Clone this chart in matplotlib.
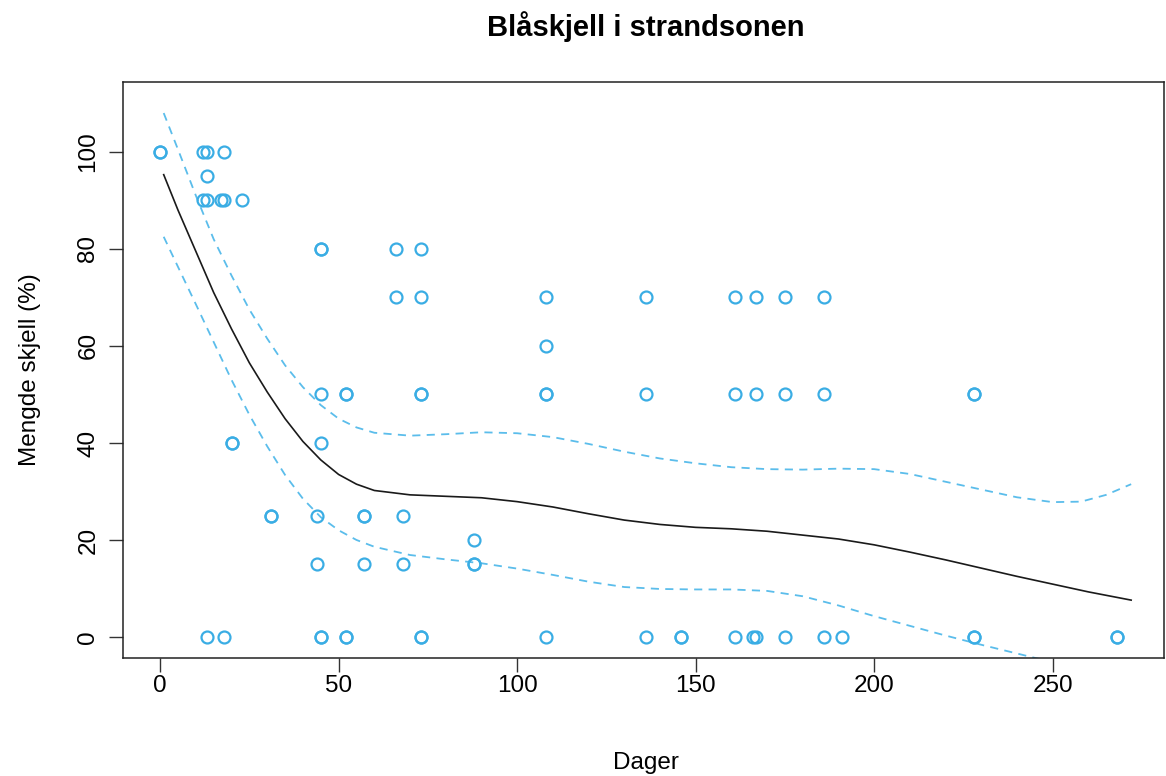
import matplotlib
matplotlib.use("Agg")
import matplotlib.pyplot as plt

plt.rcParams['font.family'] = ['Liberation Sans', 'DejaVu Sans']

# observed points (days, % mussels)
dager = [0, 0, 12, 13, 18,
         13,
         12, 13, 17, 18, 23,
         45, 45, 66, 73,
         66, 73, 108, 136, 161, 167, 175, 186,
         108,
         45, 52, 52, 73, 73, 108, 108, 136, 161, 167, 175, 186, 228, 228,
         20, 20, 45,
         31, 31, 44, 57, 57, 68,
         88,
         44, 57, 68, 88, 88,
         13, 18, 45, 45, 52, 52, 73, 73, 108, 136, 146, 146, 161, 166, 167, 175, 186, 191, 228, 228, 268, 268]
skjell = [100, 100, 100, 100, 100,
          95,
          90, 90, 90, 90, 90,
          80, 80, 80, 80,
          70, 70, 70, 70, 70, 70, 70, 70,
          60,
          50, 50, 50, 50, 50, 50, 50, 50, 50, 50, 50, 50, 50, 50,
          40, 40, 40,
          25, 25, 25, 25, 25, 25,
          20,
          15, 15, 15, 15, 15,
          0, 0, 0, 0, 0, 0, 0, 0, 0, 0, 0, 0, 0, 0, 0, 0, 0, 0, 0, 0, 0, 0]

# fitted curve
fit_x = [1, 5, 10, 15, 20, 25, 30, 35, 40, 45, 50, 55, 60, 70, 80, 90, 100, 110, 120,
         130, 140, 150, 160, 170, 180, 190, 200, 210, 220, 230, 240, 250, 260, 272]
fit_y = [95.3, 88.0, 79.5, 71.0, 63.5, 56.5, 50.5, 45.0, 40.3, 36.5, 33.5, 31.5, 30.2, 29.3,
         29.0, 28.7, 27.9, 26.8, 25.4, 24.1, 23.2, 22.6, 22.3, 21.8, 21.0, 20.2, 19.0, 17.5,
         15.9, 14.2, 12.5, 10.9, 9.3, 7.6]

# upper confidence band
upp_x = [1, 5, 10, 15, 20, 25, 30, 35, 40, 45, 50, 55, 60, 70, 80, 90, 100, 110, 120, 130,
         140, 150, 160, 170, 180, 190, 200, 210, 220, 230, 240, 250, 258, 265, 272]
upp_y = [108.0, 100.5, 91.0, 82.0, 74.5, 67.5, 61.5, 56.0, 51.5, 47.8, 45.0, 43.2, 42.1, 41.5,
         41.8, 42.2, 42.0, 41.2, 39.8, 38.2, 36.8, 35.8, 35.0, 34.6, 34.5, 34.7, 34.6, 33.6,
         32.0, 30.4, 28.8, 27.8, 27.9, 29.3, 31.5]

# lower confidence band
low_x = [1, 5, 10, 15, 20, 25, 30, 35, 40, 45, 50, 55, 60, 70, 80, 90, 100, 110, 120, 130,
         140, 150, 160, 170, 180, 190, 200, 210, 220, 230, 240, 250, 260, 272]
low_y = [82.5, 76.3, 68.6, 60.8, 53.0, 45.8, 39.3, 33.4, 28.5, 24.7, 22.0, 20.0, 18.6, 16.9,
         16.0, 15.2, 14.1, 12.8, 11.4, 10.3, 9.9, 9.8, 9.8, 9.5, 8.4, 6.5, 4.3, 2.3, 0.3,
         -1.6, -3.4, -5.2, -7.0, -9.5]

x_ticks = [0, 50, 100, 150, 200, 250]
y_ticks = [0, 20, 40, 60, 80, 100]

W, H = 1166, 776
fig = plt.figure(figsize=(W / 100, H / 100), dpi=100)
ax = fig.add_axes([123 / W, 1 - 658 / H, (1164 - 123) / W, (658 - 82) / H])

point_col = '#3AADE4'
band_col = '#5BBDEB'

ax.plot(dager, skjell, linestyle='none', marker='o', markersize=8.6,
        markerfacecolor='none', markeredgecolor=point_col, markeredgewidth=1.6, zorder=3)
ax.plot(fit_x, fit_y, color='#1a1a1a', linewidth=1.2, zorder=4)
ax.plot(upp_x, upp_y, color=band_col, linewidth=1.3, dashes=(4.5, 3.5), zorder=2)
ax.plot(low_x, low_y, color=band_col, linewidth=1.3, dashes=(4.5, 3.5), zorder=2)

ax.set_xlim(-10.4, 281.2)
ax.set_ylim(-4.33, 114.4)
ax.set_xticks(x_ticks)
ax.set_yticks(y_ticks)
ax.set_xticklabels([str(v) for v in x_ticks], fontsize=17.5)
ax.set_yticklabels([str(v) for v in y_ticks], fontsize=17.5, rotation=90, va='center')
ax.tick_params(axis='both', direction='out', length=10, width=1, color='#333333')
ax.tick_params(axis='x', pad=2)
ax.tick_params(axis='y', pad=7)
for s in ax.spines.values():
    s.set_linewidth(1.1)
    s.set_color('#222222')

fig.text(646 / W, 1 - 27 / H, 'Blåskjell i strandsonen', fontsize=21,
         fontweight='bold', ha='center', va='center')
fig.text(646 / W, 1 - 763 / H, 'Dager', fontsize=17.5, ha='center', va='center')
fig.text(30 / W, 1 - 370 / H, 'Mengde skjell (%)', fontsize=17.5, ha='center', va='center', rotation=90)

fig.savefig('out.png', dpi=100)
